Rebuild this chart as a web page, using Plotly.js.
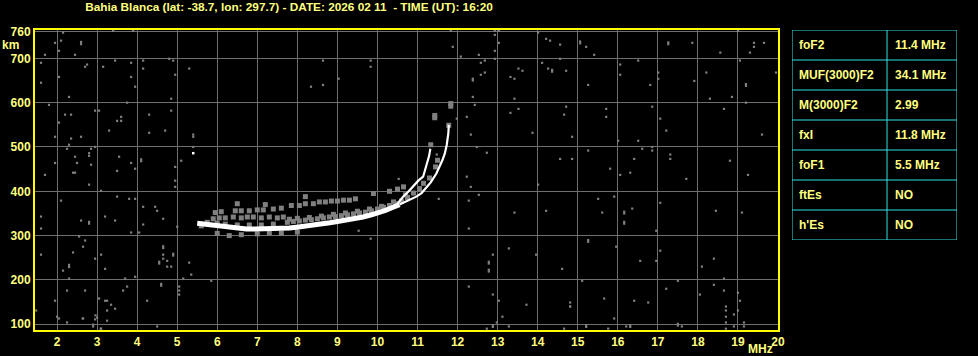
<!DOCTYPE html>
<html><head><meta charset="utf-8">
<script src="https://cdn.plot.ly/plotly-3.0.1.min.js"></script>
<style>html,body{margin:0;padding:0;background:#000;}#chart{width:978px;height:356px;}</style>
</head><body><div id="chart"></div>
<script>
// ---- tick labels ----
const xTicks = [2,3,4,5,6,7,8,9,10,11,12,13,14,15,16,17,18,19,20];
const yTicks = [100,200,300,400,500,600,700,760];

// ---- table (scaled parameters) ----
const paramNames  = ["foF2","MUF(3000)F2","M(3000)F2","fxI","foF1","ftEs","h'Es"];
const paramValues = ["11.4 MHz","34.1 MHz","2.99","11.8 MHz","5.5 MHz","NO","NO"];

// ---- echo traces (MHz, km) ----
const bandX = [5.5,5.7,5.9,6.1,6.3,6.5,6.73,6.95,7.15,7.35,7.56,7.8,7.98,8.2,8.39,8.6,8.81,9.0,9.23,9.45,9.64,9.85,10.06,10.2,10.39,10.55];
const bandY = [328,326,323,320,318,316,315,315,315,315,316,317,319,321,323,326,329,332,335,338,342,347,352,357,364,370];
const oX = [10.55,10.72,10.85,10.97,11.1,11.22,11.33,11.47,11.55,11.62,11.68,11.73,11.77,11.78];
const oY = [370,377,382,388,396,408,420,440,455,470,485,505,531,550];
const xX = [10.5,10.64,10.78,10.9,11.02,11.14,11.2,11.25,11.29,11.32];
const xY = [372,388,400,412,424,433,450,466,480,496];

const grayX = [5.95,6.1,6.45,6.6,6.8,7.0,7.15,7.4,7.6,7.85,8.05,8.2,8.4,8.55,8.7,8.85,9.0,9.15,9.3,9.45,
  5.9,6.05,6.2,6.4,6.6,6.75,6.9,7.1,7.3,7.5,7.65,
  7.75,7.9,8.05,8.2,8.35,8.5,8.65,8.8,8.95,9.1,9.25,9.4,9.55,9.7,9.85,10.0,10.15,10.3,10.45,10.6,10.75,10.9,11.05,11.15,11.3,11.45,11.5,
  7.8,8.0,8.3,8.6,8.9,9.2,9.5,9.8,10.1,10.4,10.7,
  5.6,5.75,6.0,6.2,6.5,6.8,7.1,7.4,
  6.0,6.3,6.6,7.0,7.3,7.6,8.0,
  6.5,7.2,8.2,9.9,10.3,10.5,10.65,
  11.78,11.43,11.43,11.83,11.83,11.33];
const grayY = [352,354,356,356,356,358,358,360,362,368,368,372,372,376,376,378,378,380,380,383,
  338,340,340,342,340,342,342,340,342,340,342,
  330,332,333,335,336,338,340,342,343,345,347,349,351,353,356,360,364,368,372,378,386,396,406,418,430,455,470,
  337,339,341,344,348,351,355,360,366,376,392,
  322,330,328,326,324,324,324,326,
  305,300,302,304,306,305,308,
  372,370,388,395,400,405,410,
  549,566,571,592,598,505];

// ---- scattered noise dots (MHz, km) ----
const noiseX = [2.15,1.95,2.10,2.60,2.60,2.05,1.70,2.45,3.40,3.90,1.60,2.75,2.70,3.15,3.45,3.85,4.15,4.15,4.80,4.90,5.30,4.95,2.05,3.85,1.60,3.95,2.30,4.85,3.75,1.80,2.95,3.05,2.20,2.35,4.30,3.60,3.50,3.60,4.85,2.05,3.30,4.30,4.70,5.40,5.40,1.95,2.35,2.60,2.30,2.25,2.85,2.95,5.40,2.80,2.80,2.45,3.55,1.95,2.50,2.85,3.85,4.10,4.10,5.10,4.95,3.95,3.50,1.70,2.40,2.45,
  11.83,12.93,13.03,12.93,13.03,11.88,12.93,12.08,12.53,12.93,12.68,12.58,8.64,9.83,9.83,9.03,8.64,8.34,12.38,12.38,12.68,12.58,13.32,13.42,13.52,13.62,12.38,12.43,13.42,13.52,13.32,12.23,11.98,12.33,12.48,12.73,12.23,10.53,13.87,11.48,
  14.01,14.21,14.31,14.56,15.06,15.06,15.21,15.41,14.56,14.11,14.26,14.36,14.36,14.71,15.26,16.06,16.06,16.51,17.26,17.26,17.86,18.56,19.00,19.40,19.40,19.65,19.30,19.05,19.95,17.01,17.01,16.81,17.91,18.21,19.20,19.20,18.85,18.30,19.20,18.65,14.71,14.66,15.71,15.71,16.86,17.06,17.21,14.86,16.01,16.51,16.61,16.86,16.86,15.26,17.31,17.31,16.41,14.56,14.86,15.81,16.06,16.31,17.71,18.80,19.25,19.60,
  2.80,3.10,3.50,3.80,3.95,4.95,4.95,2.10,4.15,4.45,4.50,1.60,3.20,2.60,2.80,2.80,3.45,4.65,4.15,1.60,3.85,4.05,5.00,2.55,2.70,2.65,2.40,1.60,3.10,2.95,2.30,2.30,2.15,3.20,2.30,3.70,3.95,4.65,4.65,4.65,4.65,4.90,4.90,4.55,4.55,4.75,4.75,4.85,5.30,5.35,5.15,5.85,2.25,2.70,3.65,3.75,4.60,4.60,5.05,5.05,5.05,1.95,3.05,3.20,3.35,3.45,3.25,4.25,1.48,2.00,2.05,2.65,2.95,3.00,3.25,2.25,2.90,2.90,3.10,4.50,2.64,2.96,3.09,3.25,
  12.33,12.53,12.28,11.53,13.42,12.28,9.83,9.53,12.88,13.28,12.78,12.78,12.78,12.78,12.28,12.88,13.03,13.72,13.12,13.28,12.98,12.88,12.88,12.73,
  14.01,14.21,15.51,15.91,15.61,16.16,16.16,16.16,16.16,16.36,17.06,16.96,18.45,19.10,15.26,15.26,15.96,13.96,14.61,16.56,16.96,17.06,15.11,18.40,18.10,18.65,18.40,18.65,18.05,17.50,17.21,19.00,19.05,18.70,18.70,18.70,18.70,18.70,18.90,18.90,19.00,19.15,19.15,14.81,14.81,15.66,16.41,16.76,15.91,14.66,15.21,15.21,15.76,16.21,16.31,16.31,17.50,17.50,17.60,14.81];
const noiseY = [758,735,740,732,737,717,708,708,762,762,690,686,681,681,695,690,695,677,699,695,677,663,658,658,645,636,613,609,600,595,582,582,573,573,573,568,559,559,582,555,537,532,537,528,523,523,519,523,505,496,496,500,500,486,480,478,478,464,464,460,464,472,468,469,455,451,446,437,442,442,
  762,762,762,753,735,726,717,704,708,699,695,690,695,695,681,654,640,636,654,650,668,663,658,654,677,672,613,595,609,586,577,568,564,528,500,487,433,428,532,483,
  758,744,740,731,734,738,726,708,699,690,677,670,674,672,640,686,663,695,732,736,735,713,762,735,726,735,713,695,668,668,654,640,649,668,638,642,613,609,600,586,591,573,586,568,591,564,537,523,514,514,496,500,492,492,483,473,473,473,473,451,437,442,428,469,437,528,
  415,401,388,383,383,424,410,379,365,365,356,343,343,334,327,331,334,338,325,316,307,307,320,298,289,275,262,257,257,248,234,229,221,225,203,203,207,272,276,257,248,255,259,237,241,243,230,230,239,212,203,198,176,176,176,185,187,191,185,176,167,153,158,153,144,135,131,153,131,117,113,113,111,115,108,104,95,99,90,95,113,120,90,153,
  410,392,379,383,352,316,293,311,257,271,237,241,219,223,185,167,153,144,117,95,104,94,98,90,
  415,356,383,388,352,350,354,327,331,361,374,311,356,352,286,290,275,257,225,243,243,266,198,248,230,203,189,176,167,198,180,171,153,140,131,117,104,90,122,95,131,104,95,149,140,158,153,149,113,90,94,98,90,95,94,98,97,101,95,140];
const whiteDotX = [5.40];
const whiteDotY = [486];

const gridC = '#6f6f6f';
const yellow = '#ffff80';
const cyan = '#33e0e0';
const fam = '"Liberation Sans", Arial, sans-serif';
const tickFont = {family:fam, size:12, color:yellow, weight:'bold'};

// table geometry (pixel units inside the table box)
const tableW = 165, col2Left = 95, nRows = paramNames.length;

const traces = [
  {type:'scatter', mode:'markers', x:noiseX, y:noiseY, hoverinfo:'skip',
   marker:{symbol:'square', size:2.2, color:'#808080', line:{width:0}}},
  {type:'scatter', mode:'markers', x:grayX, y:grayY, hoverinfo:'skip',
   marker:{symbol:'square', size:5, color:'#808080', line:{width:0}}},
  {type:'scatter', mode:'lines', x:bandX, y:bandY, hoverinfo:'skip', line:{color:'#ffffff', width:5}},
  {type:'scatter', mode:'lines', x:oX, y:oY, hoverinfo:'skip', line:{color:'#ffffff', width:2.2}},
  {type:'scatter', mode:'lines', x:xX, y:xY, hoverinfo:'skip', line:{color:'#ffffff', width:2.2}},
  {type:'scatter', mode:'markers', x:whiteDotX, y:whiteDotY, hoverinfo:'skip',
   marker:{symbol:'square', size:2.5, color:'#ffffff', line:{width:0}}}
];

const shapes = [
  {type:'rect', xref:'x2', yref:'y2', x0:0, x1:tableW, y0:0, y1:nRows, line:{color:cyan, width:1}},
  {type:'line', xref:'x2', yref:'y2', x0:col2Left, x1:col2Left, y0:0, y1:nRows, line:{color:cyan, width:1}}
];
for (let i = 1; i < nRows; i++) {
  shapes.push({type:'line', xref:'x2', yref:'y2', x0:0, x1:tableW, y0:i, y1:i, line:{color:cyan, width:1}});
}
const annotations = [
  {text:'km', xref:'paper', yref:'paper', x:-0.0152, y:0.95, xanchor:'right', yanchor:'middle', showarrow:false, font:tickFont},
  {text:'MHz', xref:'paper', yref:'paper', x:0.7855, y:-0.063, xanchor:'center', yanchor:'middle', showarrow:false, font:tickFont}
];
for (let i = 0; i < nRows; i++) {
  annotations.push({text:paramNames[i], xref:'x2', yref:'y2', x:5, y:i+0.5, xanchor:'left', yanchor:'middle', showarrow:false, font:tickFont});
  annotations.push({text:paramValues[i], xref:'x2', yref:'y2', x:col2Left+5.5, y:i+0.5, xanchor:'left', yanchor:'middle', showarrow:false, font:tickFont});
}

const layout = {
  width:978, height:356,
  paper_bgcolor:'#000000', plot_bgcolor:'#000000',
  margin:{l:35, r:20, t:30, b:26, pad:0},
  showlegend:false,
  title:{text:'Bahia Blanca (lat: -38.7, lon: 297.7) - DATE: 2026 02 11  - TIME (UT): 16:20',
    x:0.2955, xref:'container', xanchor:'center', y:0.98, yref:'container', yanchor:'middle',
    font:{family:fam, size:11.8, color:yellow, weight:'bold'}},
  xaxis:{domain:[0,0.805], range:[1.45,20], tickvals:xTicks, ticktext:xTicks.map(String),
    showgrid:true, gridcolor:gridC, gridwidth:1, zeroline:false,
    showline:true, mirror:true, linecolor:'#ffff00', linewidth:2, ticks:'',
    tickfont:tickFont, fixedrange:true},
  yaxis:{range:[87,764], tickvals:yTicks, ticktext:yTicks.map(String),
    showgrid:true, gridcolor:gridC, gridwidth:1, zeroline:false,
    showline:true, mirror:true, linecolor:'#ffff00', linewidth:2, ticks:'',
    tickfont:tickFont, fixedrange:true},
  xaxis2:{domain:[0.8202,0.9989], range:[0,tableW], anchor:'y2', visible:false, fixedrange:true},
  yaxis2:{domain:[0.3,1], range:[nRows,0], anchor:'x2', visible:false, fixedrange:true},
  shapes:shapes,
  annotations:annotations
};
Plotly.newPlot('chart', traces, layout, {staticPlot:true, displayModeBar:false});
</script></body></html>
